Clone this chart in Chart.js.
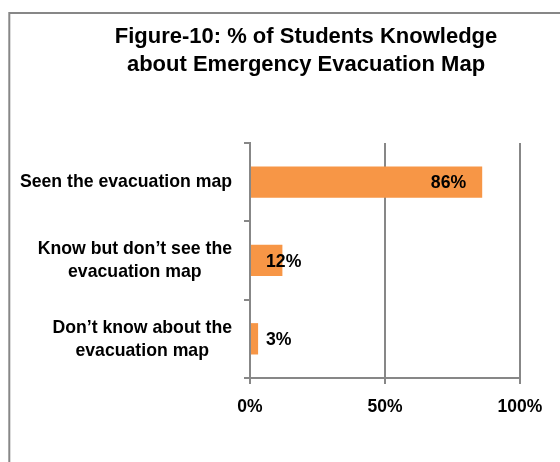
<!DOCTYPE html>
<html>
<head>
<meta charset="utf-8">
<script src="https://cdn.jsdelivr.net/npm/chart.js@4/dist/chart.umd.min.js"></script>
<style>
  html, body { margin: 0; padding: 0; background: #fff; overflow: hidden; }
  #wrap { width: 560px; height: 462px; }
</style>
</head>
<body>
<div id="wrap"><canvas id="myChart" width="560" height="462"></canvas></div>
<script>
let labels = [
    ['Seen the evacuation map'],
    ['Know but don\u2019t see the', 'evacuation map'],
    ['Don\u2019t know about the', 'evacuation map']
];
let values = [86, 12, 3];
let xTicks = [0, 50, 100];
let titleLines = ['Figure-10: % of Students Knowledge', 'about Emergency Evacuation Map'];

let fontFamily = '"Liberation Sans", Arial, sans-serif';
let gray = '#878787';
let orange = '#F79646';
let squeeze = 0.93; // the original uses a slightly condensed face

function drawText(ctx, txt, x, y) {
    ctx.save();
    ctx.translate(x, y);
    ctx.scale(squeeze, 1);
    ctx.fillText(txt, 0, 0);
    ctx.restore();
}

// grey frame round the figure (only top and left edges are in view)
let framePlugin = {
    id: 'frame',
    beforeDraw(chart) {
        let ctx = chart.ctx;
        ctx.save();
        ctx.fillStyle = '#fff';
        ctx.fillRect(0, 0, chart.width, chart.height);
        ctx.strokeStyle = gray;
        ctx.lineWidth = 2;
        ctx.beginPath();
        ctx.moveTo(9.3, chart.height + 2);
        ctx.lineTo(9.3, 13);
        ctx.lineTo(chart.width + 2, 13);
        ctx.stroke();
        ctx.restore();
    }
};

// category labels: block right aligned, lines centred inside the block
let yLabelPlugin = {
    id: 'yLabels',
    afterDraw(chart) {
        let ctx = chart.ctx;
        let yScale = chart.scales.y;
        let right = yScale.right - 18;
        let lh = 23;
        ctx.save();
        ctx.font = 'bold 19px ' + fontFamily;
        ctx.fillStyle = '#000';
        ctx.textAlign = 'center';
        ctx.textBaseline = 'middle';
        labels.forEach((lines, i) => {
            let y = yScale.getPixelForValue(i);
            let w = Math.max(...lines.map(l => ctx.measureText(l).width)) * squeeze;
            let cx = right - w / 2;
            let y0 = y - (lines.length - 1) * lh / 2;
            lines.forEach((l, j) => drawText(ctx, l, cx, y0 + j * lh));
        });
        ctx.restore();
    }
};

// value labels: inside the bar end, pushed out when the bar is too short
let valueLabelPlugin = {
    id: 'valueLabels',
    afterDatasetsDraw(chart) {
        let ctx = chart.ctx;
        let xScale = chart.scales.x;
        let meta = chart.getDatasetMeta(0);
        let base = xScale.getPixelForValue(0);
        ctx.save();
        ctx.font = 'bold 19px ' + fontFamily;
        ctx.fillStyle = '#000';
        ctx.textAlign = 'left';
        ctx.textBaseline = 'middle';
        meta.data.forEach((bar, i) => {
            let txt = values[i] + '%';
            let w = ctx.measureText(txt).width * squeeze;
            let end = xScale.getPixelForValue(values[i]);
            let x = Math.max(end - 16 - w, base + 16);
            drawText(ctx, txt, x, bar.y + 1);
        });
        ctx.restore();
    }
};

let myChart = document.getElementById('myChart').getContext('2d');

let chart = new Chart(myChart, {
    type: 'bar',
    data: {
        labels: labels,
        datasets: [{
            data: values,
            backgroundColor: orange,
            borderWidth: 0,
            barPercentage: 0.4,
            categoryPercentage: 1
        }]
    },
    options: {
        indexAxis: 'y',
        responsive: false,
        animation: false,
        layout: { padding: { left: 92, right: 40, top: 0, bottom: 0 } },
        plugins: {
            legend: { display: false },
            tooltip: { enabled: false },
            title: {
                display: true,
                text: titleLines,
                color: '#000',
                font: { family: fontFamily, size: 22, weight: 'bold', lineHeight: 1.27 },
                padding: { top: 23, bottom: 64 }
            }
        },
        scales: {
            x: {
                min: 0,
                max: 100,
                afterBuildTicks(scale) {
                    scale.ticks = xTicks.map(v => ({ value: v }));
                },
                afterFit(scale) { scale.height = 84; },
                grid: { color: gray, lineWidth: 2, tickLength: 6 },
                border: { display: true, color: gray, width: 2 },
                ticks: {
                    color: '#000',
                    padding: 13,
                    font: { family: fontFamily, size: 17.5, weight: 'bold' },
                    callback: v => v + '%'
                }
            },
            y: {
                afterFit(scale) { scale.width = 158; },
                grid: { offset: true, drawOnChartArea: false, color: gray, lineWidth: 2, tickLength: 6 },
                border: { display: true, color: gray, width: 2 },
                ticks: { display: false }
            }
        }
    },
    plugins: [framePlugin, yLabelPlugin, valueLabelPlugin]
});
</script>
</body>
</html>
